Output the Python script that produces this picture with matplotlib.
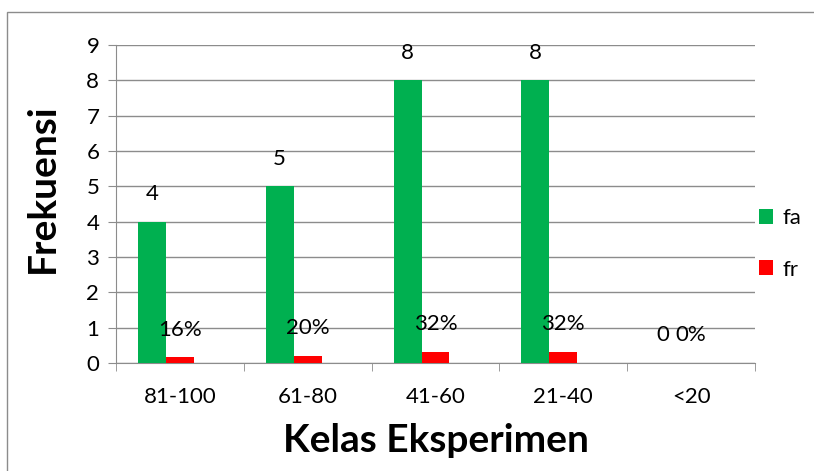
import matplotlib.pyplot as plt
import numpy as np
from matplotlib.patches import Rectangle

kelas = ['81-100', '61-80', '41-60', '21-40', '<20']
fa = [4, 5, 8, 8, 0]
fr = [0.16, 0.20, 0.32, 0.32, 0]
fa_labels = ['4', '5', '8', '8', '0']
fr_labels = ['16%', '20%', '32%', '32%', '0%']

plt.rcParams['font.family'] = ['Lato', 'DejaVu Sans']

green = '#00B050'
red = '#FF0000'
grid_c = '#8C8C8C'
fs = 16

fig = plt.figure(figsize=(8.14, 4.71), dpi=100)
ax = fig.add_axes([116 / 814, 1 - 363 / 471, (755 - 116) / 814, (363 - 45) / 471])

x = np.arange(len(kelas))
w = 0.219
ax.bar(x - w, fa, width=w, color=green, label='fa', zorder=3)
ax.bar(x, fr, width=w, color=red, label='fr', zorder=3)

for xi, v, t in zip(x - w, fa, fa_labels):
    ax.annotate(t, (xi, v), xytext=(0, 20), textcoords='offset points',
                ha='center', va='center', fontsize=fs)
for xi, v, t in zip(x, fr, fr_labels):
    ax.annotate(t, (xi, v), xytext=(0, 20), textcoords='offset points',
                ha='center', va='center', fontsize=fs)

ax.set_xlim(-0.5, 4.5)
ax.set_ylim(0, 9)
ax.set_yticks(range(10))
ax.yaxis.grid(True, color=grid_c, linewidth=1, zorder=0)
ax.set_axisbelow(True)

ax.set_xticks(x)
ax.set_xticklabels(kelas, fontsize=fs)
ax.set_xticks(np.arange(-0.5, 5, 1), minor=True)
ax.tick_params(axis='x', which='major', length=0, pad=17)
ax.tick_params(axis='x', which='minor', length=6, color=grid_c, direction='out')
ax.tick_params(axis='y', length=6, color=grid_c, labelsize=fs, pad=6)

for s in ['top', 'right']:
    ax.spines[s].set_visible(False)
for s in ['left', 'bottom']:
    ax.spines[s].set_color(grid_c)

ax.set_ylabel('Frekuensi', fontsize=28, fontweight='bold')
ax.yaxis.set_label_coords(-0.088, 0.55)
ax.set_xlabel('Kelas Eksperimen', fontsize=28, fontweight='bold', labelpad=12)

fig.legend(loc='center left', bbox_to_anchor=(739 / 814, 1 - 244 / 471),
           frameon=False, fontsize=fs, handlelength=0.65, handleheight=0.65,
           handletextpad=0.4, labelspacing=1.4)

# chart border
fig.patches.append(Rectangle((7 / 814, -0.1), 1, 1 - 12 / 471 + 0.1,
                             transform=fig.transFigure, fill=False,
                             edgecolor='#8C8C8C', linewidth=1))

fig.savefig('out.png', dpi=100)
